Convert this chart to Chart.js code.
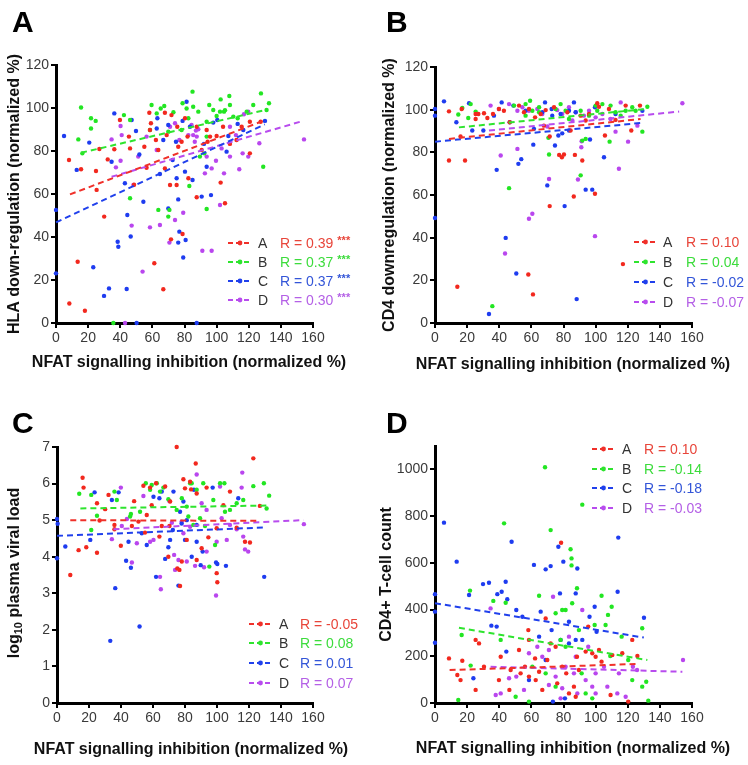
<!DOCTYPE html>
<html>
<head>
<meta charset="utf-8">
<script src="https://cdn.jsdelivr.net/npm/chart.js@4.4.1/dist/chart.umd.min.js"></script>
<style>
  body{margin:0;background:#fff;width:748px;height:765px;position:relative;overflow:hidden;font-family:"Liberation Sans",sans-serif}
  .panel{position:absolute}
  .panel canvas{display:block}
</style>
</head>
<body>
<div class="panel" style="left:0;top:0"><canvas id="cA" width="374" height="380"></canvas></div>
<div class="panel" style="left:374px;top:0"><canvas id="cB" width="374" height="380"></canvas></div>
<div class="panel" style="left:0;top:380px"><canvas id="cC" width="374" height="385"></canvas></div>
<div class="panel" style="left:374px;top:380px"><canvas id="cD" width="374" height="385"></canvas></div>
<script>
const groups = ['A','B','C','D'];
const ptColors = ['#f2281e','#22e622','#1e3cf0','#b946ee'];
const lineColors = ['#f0302a','#2ee42e','#2040ec','#b84cee'];
const textColors = ['#e8453a','#3cdc3c','#3355d8','#b460e6'];

const xTitle = 'NFAT signalling inhibition (normalized %)';

// ---- panel A: HLA down-regulation
const hlaA = [[8.1,75.8],[15.6,71.5],[8.3,9.1],[13.5,28.5],[18,5.7],[24.9,70.7],[25.3,61.9],[27,80.9],[30,49.5],[32.2,76.1],[36.3,80.8],[39.8,94.4],[46.1,81.2],[45.4,86.7],[48.6,64.3],[55,82],[56.4,72.2],[58.1,97.8],[59.1,92.9],[58.5,89.8],[61.2,27.8],[62.2,85.1],[63.7,80.5],[66.8,15.7],[67.8,71.9],[68.9,87.4],[71,64.2],[71.6,38.9],[75.1,64.2],[75.5,91.3],[76.1,82],[78.8,41.4],[80.3,95.2],[81.9,86.7],[82.4,67.3],[87.6,58.5],[87.6,91.3],[90.7,80.5],[93.8,89.8],[95.9,86.7],[100,87],[102.5,65.3],[105.2,55.7],[104,91.3],[108.3,83.3],[112.4,85.1],[115.6,91.3],[120.7,78.9],[120.7,93.6],[127.4,93.6],[94.4,84.3],[78.2,84.3],[67.8,97.8],[71.9,96.7]];
const hlaB = [[15.6,100.2],[13.9,85.4],[21.8,95.2],[24.7,94],[21.8,90.5],[16.4,78.9],[42.3,96.7],[46.1,94.4],[46.1,58],[59.5,101.4],[62.7,97.5],[65.2,99.8],[67.4,100.9],[63.7,52.6],[70.6,52.6],[69.9,49.5],[73.1,98],[78.8,102.2],[81.3,99.8],[85,107.6],[85.4,100.6],[88.6,98.3],[83,63.7],[82.4,95.2],[89.6,77.4],[93.8,53],[92.3,78.9],[95.4,101.4],[97.9,99.1],[100,96.3],[102.5,104],[104.6,98.3],[107.9,105.6],[108.3,101.4],[110.4,96],[113.1,95.2],[118.7,98.3],[122.8,101.4],[127.6,106.8],[129,72.7],[132.6,102.2],[131.1,99.1],[35.7,0],[58.5,89.8],[69.9,89],[78.2,89.8],[93.8,93.6],[102.1,98.3],[105.2,99],[93.8,86.7]];
const hlaC = [[5,87],[0,52.6],[0,23.1],[12.9,71.2],[20.7,83.9],[23.2,25.9],[29.9,12.6],[33,16.1],[36.3,97.5],[34.6,75],[38.4,37.8],[38.8,35.5],[42.9,65],[44.4,50.2],[44,15.8],[46.5,40.2],[47.1,94.4],[49.8,89.3],[50.2,0],[51.9,78.4],[54.4,56.4],[63.1,95.2],[62.7,90.5],[64.7,69.3],[66.8,85.1],[69.9,53.3],[72.6,75.8],[75.1,67.3],[76.1,57.5],[76.8,42.5],[76.1,37.4],[78.8,94],[79.2,30.5],[80.3,70.4],[80.7,38.6],[81.3,102.9],[83.4,91.3],[85,66.5],[87.6,0],[90.7,58.8],[92.1,83.3],[93.8,72.7],[96.5,59.5],[97.9,93.2],[106.2,79.7],[107.3,87],[113.1,92.6],[116.6,89.8],[130.1,94],[100.4,94.4],[74.7,84.3],[69.9,92.1]];
const hlaD = [[34.6,85.4],[37.3,72.4],[40.2,75.5],[40.9,87.4],[40.2,91.6],[47.1,45.3],[48.2,64.2],[51.2,77.4],[53.9,23.9],[58.5,44.5],[64.7,45.6],[70.6,37.4],[74.1,47.9],[79.2,51.3],[71,91.3],[76.8,85.1],[82.4,87.4],[84.4,92.1],[85.4,87.4],[86.4,84.3],[87.6,86.7],[87.1,89.5],[88.6,90.1],[91.1,33.6],[96.9,33.6],[92.7,69.6],[96.9,71.9],[99.6,75.5],[102.1,54.9],[104.6,69.6],[108.3,77.4],[112,87.4],[114.1,71.5],[116.2,78.9],[117,97.1],[119.7,98.3],[119.7,77.4],[126.6,83.6],[154.4,85.4],[43,0],[62.7,80.5],[56.4,86.7],[74.1,92.9],[93.8,77.4],[108.3,91.3],[103.1,81.2]];
const fitHla = [[8.7,59.8,129,94],[15.6,79.2,130,99],[0,46.8,130,92.4],[34.6,68,152,93.6]];
const rHla = ['R = 0.39','R = 0.37','R = 0.37','R = 0.30'];
const starsHla = ['***','***','***','***'];

// ---- panel B: CD4 downregulation
const cd4dA = [[8.7,99.2],[8.7,76.2],[13.9,17],[16.6,100.3],[18.7,76.2],[15.9,87.4],[25.3,98],[25.3,95.6],[27,98],[30.5,98.3],[32.6,96.1],[36.1,98],[39.8,100.3],[42.9,99.5],[46.5,94.1],[52.3,101.9],[55.4,98.8],[58.1,22.7],[58.5,100.3],[61,13.4],[62.3,96.4],[65.8,98],[68.9,99.8],[71.4,54.8],[71.4,87.4],[74.1,101.1],[77.3,78.8],[79,77.7],[80.3,79],[82.4,98.8],[86.4,59.3],[87.1,78.8],[91.7,76.2],[93.8,94.9],[95.9,98],[99.6,60.6],[101,103],[102.1,101.4],[105.8,87.9],[108.3,100.3],[117,27.6],[118.7,101.9],[122.2,90.2],[127.6,101.9],[67.8,92.5],[84.4,90.2],[112.4,95.2],[90.7,97.2]];
const cd4dB = [[14.5,97.7],[17,100.8],[22.2,102.6],[25.3,99.1],[20.7,96.1],[35.7,7.9],[46.1,63.2],[49.2,101.9],[56.4,102.6],[59.2,104.2],[56.4,97.2],[60.6,99.5],[64.8,98.8],[70.6,86.8],[71,79],[78.2,102.6],[81.3,99.5],[83.4,95.6],[90.7,69.2],[91.7,85.5],[93.8,86.3],[95.9,97.2],[100,101.9],[104.2,102.6],[109.3,101.9],[108.7,85],[112.4,98.8],[118.7,99.5],[122.8,101.1],[129.1,89.7],[132.2,101.4],[124.9,99.5],[64.8,101.1],[75.1,100.3],[101,99.5],[90.7,99.5],[115.6,97.2]];
const cd4dC = [[0,100.3],[0,97.2],[0,49.2],[5.6,103.9],[13.3,94.1],[21.2,103],[23.2,90.2],[30.1,90.2],[33.6,4.2],[36.7,97.2],[38.4,71.8],[41.5,103.4],[44,39.9],[46.5,94.1],[48.8,101.9],[50.6,23.2],[51.9,74.6],[53.7,76.8],[56.4,99.5],[61.2,83.6],[61.6,91],[66.8,98.8],[68.5,103.4],[69.9,64.5],[72.6,100.3],[74.7,83.2],[76.8,87.9],[79.2,88.9],[80.7,54.8],[83.4,90.2],[86.5,103.4],[88.2,11.2],[87.6,98.8],[93.8,62.5],[96.5,86],[97.9,62.5],[99.6,101.1],[105.2,77.7],[112.4,98],[129.1,99.5],[78.2,98],[73,97.2],[83.4,99.5]];
const cd4dD = [[34.6,101.9],[39.8,100.3],[40.9,78.5],[43.6,32.6],[46.1,102.6],[51.3,81.6],[51.3,99.5],[58.5,48.9],[60.6,51.2],[66.8,98],[69.9,92.1],[71,67.5],[76.1,99.8],[79.2,98],[83.4,101.1],[87.6,98.8],[89,67.3],[91.1,82.4],[91.3,85.2],[92.7,97.2],[95.9,99.5],[99.6,40.7],[104.2,98],[109.3,95.6],[112.4,89.7],[114.5,72.3],[115.6,103.4],[120.2,85],[126,92.5],[154,103],[58.5,99.5],[63.7,100.3],[54.4,101.1],[100,96.4],[85.5,94.9]];
const fitCd4d = [[8.7,86.3,128,95.6],[14.9,91.7,131,100.3],[0,85,129,93.8],[33.6,90.2,152,99.1]];
const rCd4d = ['R = 0.10','R = 0.04','R = -0.02','R = -0.07'];

// ---- panel C: log10 plasma viral load
const vlA = [[8.3,3.5],[13.5,4.18],[16,6.16],[16.6,5.89],[18.3,4.26],[25,5.46],[25,4.11],[26.6,4.99],[30.1,5.3],[32.2,5.69],[35.9,4.87],[35.9,4.75],[39.9,4.3],[46.8,4.84],[48.2,5.52],[50.9,4.96],[54,5.94],[55,4.66],[56.1,5.14],[58.2,5.89],[59.2,5.41],[61.9,6.01],[64,4.55],[65.5,4.84],[67.6,5.92],[70.3,4.84],[70.7,5.51],[74.8,7.0],[75.2,3.68],[76.5,3.64],[76.9,3.2],[79,6.12],[80,5.87],[83.2,6.05],[83.8,5.84],[86.7,6.55],[87.3,5.73],[90.4,4.23],[93.5,5.89],[94.6,4.53],[99.8,3.55],[100.2,3.3],[99.8,4.78],[104,5.41],[108.1,5.78],[112.3,4.79],[117.5,4.41],[120.6,4.39],[122.7,6.69],[126.8,5.39],[81.1,4.46],[69.6,4],[87.3,3.91],[78,3.87]];
const vlB = [[13.9,5.72],[21.4,5.69],[21.4,4.73],[25,5.12],[35.9,5.78],[37.4,5.55],[45.7,5.1],[46.2,5.17],[51.9,5.23],[55.5,6.01],[59.2,5.96],[62.4,6.01],[64.4,5.78],[66.5,5.89],[69.6,5.57],[74.8,5.28],[78,5.6],[81.1,5.37],[83.2,6.01],[84.2,6.01],[87.3,5.83],[91.4,6.01],[95.2,3.73],[97.7,5.55],[98.8,4.32],[101.9,6.01],[105,5.23],[104.6,6.01],[108.1,5.28],[116.4,5.55],[122.7,5.93],[129.3,6.01],[131,5.32],[132.6,5.67],[89.4,5.05],[92.5,4.84],[85.2,4.87],[82.1,5.1],[112.3,5.46],[58.2,5.83]];
const vlC = [[0,5.03],[0.4,4.9],[0,3.96],[5.2,4.28],[20.8,4.46],[23.5,5.76],[33.3,1.7],[34.3,5.55],[36.4,3.14],[38.5,5.76],[43.2,3.89],[44.7,4.41],[46.2,3.7],[51.6,2.09],[53,4.64],[56.1,4.32],[60.3,5.64],[61.9,3.45],[64,5.6],[65.5,5.78],[67.6,3.94],[69.6,4.26],[70.7,4.46],[72.4,4.73],[75.9,3.21],[76.9,5.23],[79,5.51],[80,4.46],[81.1,5],[84.2,4],[85.6,5.83],[87.3,4.41],[87.3,4.87],[89.8,3.77],[91,4.14],[97.3,5.89],[99.4,3.84],[100.2,3.8],[105.6,3.75],[113.3,5.6],[129.5,3.45],[72.8,5.78],[77.9,4.91]];
const vlD = [[34.3,4.48],[39.9,5.89],[40.5,4.84],[43.7,5.03],[46.8,3.84],[49.9,4.37],[54,5.66],[58.2,4.41],[60.3,4.46],[64.4,3.45],[64.9,3.11],[70.3,5.52],[71.8,4.93],[73.2,4.05],[73.8,3.64],[75.9,3.91],[79,4.64],[81.1,3.87],[86.3,3.75],[87.3,6.25],[90.4,5.46],[91.9,3.71],[93.5,4.14],[99.4,2.94],[99.8,4.41],[101.9,5.92],[106.1,4.46],[108.1,4.87],[112.3,4.75],[115.4,5.89],[115.8,6.3],[116.4,4.55],[117.5,4.2],[119.5,4.14],[154.3,4.89],[83.2,4.82],[93.5,5.28],[102.9,5.05],[77.9,4.96]];
const fitVl = [[8.3,5.0,125,4.98],[14.6,5.32,132,5.4],[0,4.57,129.5,4.8],[35.3,4.75,154,5.0]];
const rVl = ['R = -0.05','R = 0.08','R = 0.01','R = 0.07'];

// ---- panel D: CD4+ T-cell count
const cntA = [[8.7,191],[15.9,98],[17,181],[13.9,120],[25.3,56],[25.3,270],[27.4,255],[30.5,155],[39.8,98],[40.9,198],[46.3,56],[52.3,227],[53.3,127],[56,155],[58.1,312],[58.5,113],[58.5,270],[62.3,191],[64.8,134],[66.8,56],[68.9,362],[69.9,184],[72,255],[76.1,84],[78.5,686],[79.2,155],[81.7,127],[83.4,41],[86.5,70],[87.6,27],[89.6,141],[93.8,220],[95.4,327],[97.9,213],[100,198],[102.1,227],[103.7,177],[109.3,34],[110.4,205],[116.6,213],[120.3,6],[122.8,270],[126,201],[47.1,141],[88.4,198],[75.1,241],[62.7,98]];
const cntB = [[14.5,13],[16.6,291],[21.8,481],[22.2,160],[36.3,437],[43,769],[44,429],[40.9,270],[58.5,6],[64.8,459],[68.5,1009],[72,740],[75.1,384],[79.2,398],[81.3,398],[84.4,658],[85,619],[85,589],[85.4,427],[88.4,491],[91.7,849],[89.6,312],[91.3,127],[93.8,41],[97.9,20],[99.4,334],[103.7,459],[106.2,334],[107.7,377],[110,412],[116.2,284],[122.8,98],[129,320],[131.5,91],[132.8,10],[129,70],[75.1,70],[78.2,270],[68.9,127],[50.2,27],[60.6,155],[120.3,184],[109.1,201],[81.3,241]];
const cntC = [[0,466],[0,391],[0,258],[5.6,772],[13.5,605],[21.2,462],[23.9,106],[29.9,509],[33.6,515],[35.1,331],[38.4,327],[38.8,466],[41.5,476],[44,519],[44.4,220],[45,444],[47.7,690],[50.6,398],[54.4,369],[61.6,591],[64.8,284],[65.8,391],[68.9,572],[72,586],[72.6,312],[73.4,6],[76.8,669],[77.8,469],[78.2,270],[79.9,605],[80.9,20],[83.4,348],[87.6,469],[88.6,576],[91.7,270],[96.2,369],[99.4,412],[100.6,305],[113.7,476],[114.1,708],[130.1,365],[83.4,255],[58.5,98],[68.9,184],[87.6,270]];
const cntD = [[34.6,405],[37.8,34],[40.9,41],[46.1,106],[50.6,113],[55.4,56],[58.5,213],[63.7,241],[66.8,198],[70.9,227],[73.5,455],[75.1,113],[78.2,20],[81.3,155],[83.4,284],[86.5,127],[88.6,41],[91.7,398],[93.8,98],[97.9,70],[100,127],[105.2,155],[107.3,70],[113.5,41],[114.5,127],[118.7,27],[123.2,155],[125.8,141],[154.4,184],[95.4,241],[87.6,198],[79.2,63],[70.9,77],[100,41]];
const fitCnt = [[9.1,141,126,167],[14.9,322,132.2,184],[0,427,130,280],[34.6,155,154,134]];
const rCnt = ['R = 0.10','R = -0.14','R = -0.18','R = -0.03'];

const FONT = '"Liberation Sans", "DejaVu Sans", sans-serif';

function decor(o){
  return {
    id:'decor'+o.tag,
    afterDraw(chart){
      const ctx = chart.ctx;
      ctx.save();
      // panel letter
      ctx.fillStyle = '#000';
      ctx.font = 'bold 30px ' + FONT;
      ctx.textBaseline = 'alphabetic';
      ctx.textAlign = 'left';
      ctx.fillText(o.tag, 12, o.tagY);
      // x title (drawn here so it is not squeezed to the plot width)
      ctx.font = 'bold 16px ' + FONT;
      ctx.fillStyle = '#111';
      ctx.textAlign = 'center';
      ctx.textBaseline = 'middle';
      ctx.fillText(xTitle, o.xtX, o.xtY);
      ctx.textAlign = 'left';
      // custom y title (subscript)
      if (o.yTitleSub){
        ctx.translate(15, (chart.chartArea.top + chart.chartArea.bottom)/2 - 2);
        ctx.rotate(-Math.PI/2);
        const big = 'bold 16px ' + FONT, small = 'bold 11px ' + FONT;
        const parts = [['log',big,0],['10',small,4],[' plasma viral load',big,0]];
        let w = 0;
        parts.forEach(p => { ctx.font = p[1]; w += ctx.measureText(p[0]).width; });
        let x = -w/2;
        ctx.fillStyle = '#111';
        ctx.textBaseline = 'middle';
        parts.forEach(p => { ctx.font = p[1]; ctx.fillText(p[0], x, p[2]); x += ctx.measureText(p[0]).width; });
        ctx.setTransform(1,0,0,1,0,0);
      }
      // legend
      const L = o.legend;
      L.rows.forEach((y, i) => {
        ctx.strokeStyle = lineColors[i];
        ctx.lineWidth = 2;
        ctx.setLineDash([5,3]);
        ctx.beginPath(); ctx.moveTo(L.x1, y); ctx.lineTo(L.x2, y); ctx.stroke();
        ctx.setLineDash([]);
        ctx.fillStyle = lineColors[i];
        ctx.beginPath(); ctx.arc((L.x1+L.x2)/2, y, 2.4, 0, Math.PI*2); ctx.fill();
        ctx.textBaseline = 'middle';
        ctx.font = '14px ' + FONT;
        ctx.fillStyle = '#333';
        ctx.fillText(groups[i], L.lx, y + 1);
        ctx.fillStyle = textColors[i];
        ctx.fillText(o.rLabels[i], L.rx, y + 1);
        if (o.stars){
          const w = ctx.measureText(o.rLabels[i]).width;
          ctx.font = 'bold 11px ' + FONT;
          ctx.fillText(o.stars[i], L.rx + w + 4, y - 2);
        }
      });
      ctx.restore();
    }
  };
}

function panel(id, o){
  const canvas = document.getElementById(id);
  const W = canvas.width, H = canvas.height, a = o.area;
  const ds = [];
  o.fits.forEach((f, i) => ds.push({
    type:'line', data:[{x:f[0], y:f[1]}, {x:f[2], y:f[3]}],
    borderColor: lineColors[i], borderWidth: 2, borderDash:[6,4],
    pointRadius: 0, fill:false, showLine:true, clip:false
  }));
  o.pts.forEach((p, i) => ds.push({
    type:'scatter', data: p.map(([x,y]) => ({x, y})),
    backgroundColor: ptColors[i], borderWidth: 0, pointRadius: 2.2, clip:false
  }));
  const tickFont = {family: FONT, size: 14};
  const grid = {drawOnChartArea:false, drawTicks:true, tickLength:5, color:'#000', lineWidth:2};
  new Chart(canvas, {
    type:'scatter',
    data:{datasets: ds},
    options:{
      responsive:false, animation:false, devicePixelRatio:1,
      layout:{padding:{left:0, top:a.t, right:W - a.r, bottom:0}},
      plugins:{legend:{display:false}, tooltip:{enabled:false}},
      events:[],
      scales:{
        x:{
          type:'linear', min:0, max:160,
          ticks:{stepSize:20, color:'#3a3a3a', font:tickFont, padding:2, callback:v => String(v)},
          grid, border:{color:'#000', width:3},
          title:{display:false},
          afterFit(s){ s.height = H - a.b; }
        },
        y:{
          type:'linear', min:o.ymin, max:o.ymax,
          ticks:{stepSize:o.ystep, color:'#3a3a3a', font:tickFont, padding:2, callback:v => String(v)},
          afterBuildTicks(s){ s.ticks = s.ticks.filter(t => t.value <= o.ytop); },
          grid, border:{color:'#000', width:3},
          title:{display:!o.yTitleSub, text:o.yTitle, color:'#111', font:{family:FONT, size:16, weight:'bold'}, padding:{top:o.ytPad, bottom:0}},
          afterFit(s){ s.width = a.l; }
        }
      }
    },
    plugins:[decor(o)]
  });
}

panel('cA', {
  tag:'A', tagY:32, pts:[hlaA,hlaB,hlaC,hlaD], fits:fitHla, rLabels:rHla, stars:starsHla,
  area:{l:56, r:313, t:65, b:323}, ymin:0, ymax:120, ystep:20, ytop:120,
  yTitle:'HLA down-regulation (normalized %)', ytPad:5, xtX:189, xtY:363,
  legend:{x1:228, x2:252, lx:258, rx:280, rows:[243,262,281,300]}
});
panel('cB', {
  tag:'B', tagY:32, pts:[cd4dA,cd4dB,cd4dC,cd4dD], fits:fitCd4d, rLabels:rCd4d,
  area:{l:61, r:318, t:67, b:323}, ymin:0, ymax:120, ystep:20, ytop:120,
  yTitle:'CD4 downregulation (normalized %)', ytPad:6, xtX:199, xtY:365,
  legend:{x1:260, x2:283, lx:289, rx:312, rows:[242,262,282,302]}
});
panel('cC', {
  tag:'C', tagY:53, pts:[vlA,vlB,vlC,vlD], fits:fitVl, rLabels:rVl,
  area:{l:57, r:313, t:67, b:323}, ymin:0, ymax:7, ystep:1, ytop:7,
  yTitle:'log10 plasma viral load', yTitleSub:true, ytPad:5, xtX:191, xtY:370,
  legend:{x1:249, x2:272, lx:279, rx:300, rows:[244,263,283,303]}
});
panel('cD', {
  tag:'D', tagY:53, pts:[cntA,cntB,cntC,cntD], fits:fitCnt, rLabels:rCnt,
  area:{l:61, r:318, t:66, b:323}, ymin:0, ymax:1100, ystep:200, ytop:1000,
  yTitle:'CD4+ T-cell count', ytPad:3, xtX:199, xtY:369,
  legend:{x1:218, x2:241, lx:248, rx:270, rows:[69,89,108,128]}
});
</script>
</body>
</html>
